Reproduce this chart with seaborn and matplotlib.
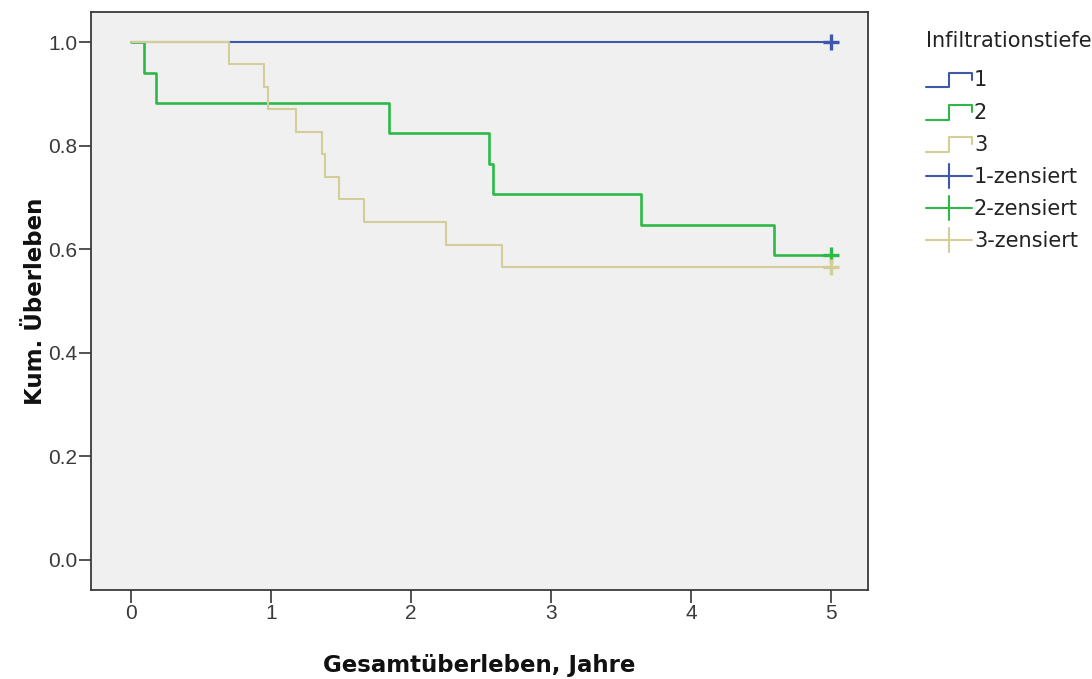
import matplotlib
matplotlib.use("Agg")
import matplotlib.pyplot as plt
from matplotlib.lines import Line2D
from matplotlib.legend_handler import HandlerBase
import pandas as pd
import seaborn as sns

# Kaplan-Meier step data per infiltration depth group
groups = ["1", "2", "3"]
times_1 = [0.0, 5.0]
surv_1 = [1.0, 1.0]
times_2 = [0.0, 0.093, 0.176, 1.84, 2.557, 2.588, 3.643, 4.595, 5.0]
surv_2 = [1.0, 0.941, 0.882, 0.824, 0.765, 0.706, 0.647, 0.588, 0.588]
times_3 = [0.0, 0.702, 0.95, 0.981, 1.179, 1.362, 1.386, 1.486, 1.667, 2.248, 2.652, 5.0]
surv_3 = [1.0, 0.957, 0.913, 0.870, 0.826, 0.783, 0.739, 0.696, 0.652, 0.609, 0.565, 0.565]

# censored observations (time, survival)
cens_time = [5.0, 5.0, 5.0]
cens_surv = [1.0, 0.588, 0.565]

x_ticks = [0, 1, 2, 3, 4, 5]
y_ticks = [0.0, 0.2, 0.4, 0.6, 0.8, 1.0]
y_tick_labels = ["0.0", "0.2", "0.4", "0.6", "0.8", "1.0"]

colors = {"1": "#3E58AC", "2": "#2EB848", "3": "#D3CE97"}
widths = {"1": 1.5, "2": 1.9, "3": 1.5}

curves = pd.concat([
    pd.DataFrame({"Zeit": times_1, "Ueberleben": surv_1, "Gruppe": "1"}),
    pd.DataFrame({"Zeit": times_2, "Ueberleben": surv_2, "Gruppe": "2"}),
    pd.DataFrame({"Zeit": times_3, "Ueberleben": surv_3, "Gruppe": "3"}),
], ignore_index=True)
censored = pd.DataFrame({"Zeit": cens_time, "Ueberleben": cens_surv, "Gruppe": groups})

sns.set_theme(style="white")
plt.rcParams["font.family"] = ["Liberation Sans", "DejaVu Sans"]

fig = plt.figure(figsize=(10.92, 6.79), dpi=100)
ax = fig.add_axes([91 / 1092, 1 - 590 / 679, (868 - 91) / 1092, (590 - 12) / 679])
ax.set_facecolor("#F0F0F0")

for g in groups:
    sub = curves[curves["Gruppe"] == g]
    sns.lineplot(data=sub, x="Zeit", y="Ueberleben", ax=ax, color=colors[g],
                 drawstyle="steps-post", estimator=None, sort=False,
                 linewidth=widths[g], legend=False)

for g in groups:
    sub = censored[censored["Gruppe"] == g]
    sns.scatterplot(data=sub, x="Zeit", y="Ueberleben", ax=ax, color=colors[g],
                    marker="+", s=120, linewidth=2.4, legend=False, zorder=5)

ax.set_xlim(-0.286, 5.264)
ax.set_ylim(-0.058, 1.058)
ax.set_xticks(x_ticks)
ax.set_yticks(y_ticks)
ax.set_yticklabels(y_tick_labels)
ax.tick_params(axis="both", which="major", bottom=True, left=True, direction="out",
               length=9, width=1.3, color="#444444",
               labelsize=15, labelcolor="#3A3A3A", pad=1)
for sp in ax.spines.values():
    sp.set_color("#3A3A3A")
    sp.set_linewidth(1.3)

label_font = dict(family="DejaVu Sans", fontsize=16.5, fontweight="bold", color="#111111")
ax.set_xlabel("Gesamtüberleben, Jahre", **label_font)
ax.set_ylabel("Kum. Überleben", **label_font)
ax.xaxis.set_label_coords(0.5, -0.11)
ax.yaxis.set_label_coords(-0.057, 0.5)


class StepHandler(HandlerBase):
    def create_artists(self, legend, orig_handle, xdescent, ydescent,
                       width, height, fontsize, trans):
        x0, y0 = -xdescent, -ydescent
        xs = [x0, x0 + 0.5 * width, x0 + 0.5 * width, x0 + width, x0 + width]
        ys = [y0 - 0.1 * height, y0 - 0.1 * height, y0 + 0.95 * height,
              y0 + 0.95 * height, y0 + 0.45 * height]
        return [Line2D(xs, ys, color=orig_handle.get_color(), lw=1.5, transform=trans)]


class CensorHandler(HandlerBase):
    def create_artists(self, legend, orig_handle, xdescent, ydescent,
                       width, height, fontsize, trans):
        x0, y0 = -xdescent, -ydescent
        ym = y0 + 0.45 * height
        h = Line2D([x0, x0 + width], [ym, ym], color=orig_handle.get_color(), lw=1.5,
                   transform=trans)
        v = Line2D([x0 + 0.5 * width, x0 + 0.5 * width],
                   [ym - 0.85 * height, ym + 0.85 * height],
                   color=orig_handle.get_color(), lw=1.5, transform=trans)
        return [h, v]


class StepKey(Line2D):
    pass


class CensorKey(Line2D):
    pass


handles = [StepKey([], [], color=colors[g]) for g in groups] + \
          [CensorKey([], [], color=colors[g]) for g in groups]
labels = groups + [f"{g}-zensiert" for g in groups]

leg = fig.legend(handles, labels, title="Infiltrationstiefe",
                 handler_map={StepKey: StepHandler(), CensorKey: CensorHandler()},
                 loc="upper left", bbox_to_anchor=(926 / 1092, 1 - 31 / 679),
                 frameon=False, prop={"family": "DejaVu Sans", "size": 15},
                 title_fontproperties={"family": "DejaVu Sans", "size": 15},
                 handlelength=2.2, handleheight=0.65, handletextpad=0.1,
                 labelspacing=0.58, borderaxespad=0, borderpad=0,
                 alignment="left")
leg._legend_box.sep = 14
for t in leg.get_texts():
    t.set_color("#222222")
leg.get_title().set_color("#222222")

fig.savefig("out.png", dpi=100, facecolor="white")
